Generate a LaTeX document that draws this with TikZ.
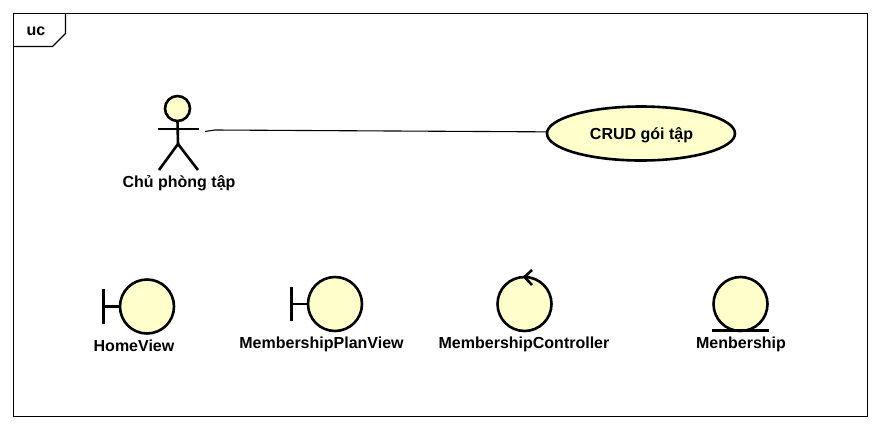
\documentclass[tikz,border=0pt]{standalone}
\usepackage{fontspec}
\setmainfont{Liberation Sans}
\usetikzlibrary{shapes.geometric}
\definecolor{ucfill}{HTML}{FFFFCC}
\tikzset{
  lbl/.style={font=\bfseries\fontsize{16}{19}\selectfont,inner sep=0pt,text=black},
  ball/.style={circle,draw=black,fill=ucfill,line width=2.6pt,minimum size=54pt,inner sep=0pt,outer sep=0pt},
  stroke/.style={draw=black,line width=2.6pt},
  thin line/.style={draw=black,line width=1.1pt}
}
\begin{document}
\begin{tikzpicture}[x=1pt,y=-1pt]
\useasboundingbox[fill=white] (0,0) rectangle (880,429);
% frame
\draw[thin line] (13.5,13.5) rectangle (867.5,416.5);
\draw[thin line] (13.5,46.5) -- (52.5,46.5) -- (65.5,33.5) -- (65.5,13.5);
\node[lbl] (ucname) at (36,31.5) {uc};
% actor
\node[ball,minimum size=25pt] (head) at (177.5,108.5) {};
\coordinate (hip) at (178,144);
\coordinate (handl) at (158,129);
\coordinate (handr) at (198.5,129);
\coordinate (footl) at (159,170);
\coordinate (footr) at (198,170);
\draw[stroke] (head.south) -- (hip);
\draw[stroke] (handl) -- (handr);
\draw[stroke] (footl) -- (hip) -- (footr);
\node[lbl] (actorname) at (179,183.5) {Chủ phòng tập};
% use case
\node[ellipse,draw=black,fill=ucfill,line width=2.6pt,minimum width=188pt,minimum height=54pt,inner sep=0pt,outer sep=0pt] (crud) at (641,133.5) {};
\node[lbl] at (641.5,135) {CRUD gói tập};
\coordinate (actorend) at (205,131.5);
\draw[thin line] (actorend) -- (215,130) -- (crud.179);
% boundary HomeView
\node[ball] (home) at (147,306.5) {};
\coordinate (homebar) at (103.5,306.5);
\draw[stroke] (103.5,289) -- (103.5,323.5);
\draw[stroke] (homebar) -- (home.west);
\node[lbl] (homename) at (134,345.5) {HomeView};
% boundary MembershipPlanView
\node[ball] (plan) at (335,304) {};
\coordinate (planbar) at (291.5,304);
\draw[stroke] (291.5,287) -- (291.5,321);
\draw[stroke] (planbar) -- (plan.west);
\node[lbl] (planname) at (321.5,344) {MembershipPlanView};
% control
\node[ball] (ctrl) at (524.5,304) {};
\coordinate (tip) at (524.5,277);
\draw[stroke] (532,270) -- (tip) -- (532,285);
\node[lbl] (ctrlname) at (524,344) {MembershipController};
% entity
\node[ball] (ent) at (740.5,304) {};
\coordinate (entl) at (712,330.5);
\coordinate (entr) at (769,330.5);
\draw[stroke] (entl) -- (entr);
\node[lbl] (entname) at (741,344) {Menbership};
\end{tikzpicture}
\end{document}
